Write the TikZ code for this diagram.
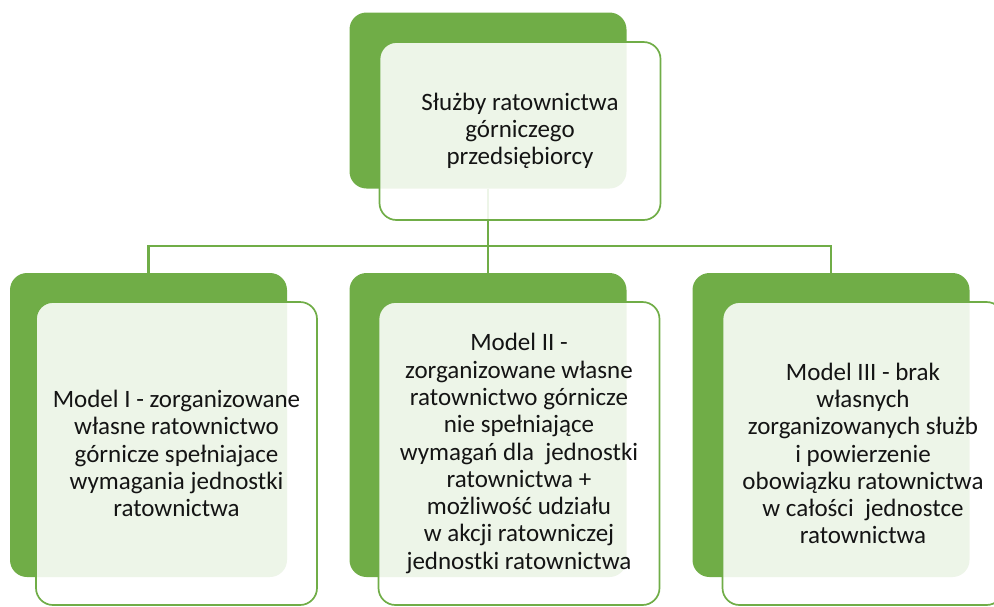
\documentclass[tikz,border=0pt]{standalone}
\usepackage{fontspec}
\setmainfont{Carlito}
\definecolor{modelgreen}{HTML}{70AD47}
\definecolor{modeltext}{HTML}{141414}
\tikzset{
  backbox/.style={fill=modelgreen, rounded corners=17pt, minimum width=277pt, inner sep=0pt},
  frontbox/.style={draw=modelgreen, line width=1.7pt, fill=white, fill opacity=0.88, text opacity=1,
    text=modeltext, rounded corners=17pt, minimum width=281pt, inner sep=0pt, align=center,
    font=\fontsize{25}{27.3}\selectfont},
  link/.style={draw=modelgreen, line width=2.2pt}
}
\begin{document}
\begin{tikzpicture}[x=1pt, y=-1pt]
\useasboundingbox (0,0) rectangle (994,606);
\clip (0,0) rectangle (994,606);
\coordinate (bus) at (488,246);
\node[backbox, minimum height=176pt] (topback) at (488,100.5) {};
\node[backbox, minimum height=304pt] (m1back) at (148.5,425) {};
\node[backbox, minimum height=304pt] (m2back) at (488,425) {};
\node[backbox, minimum height=304pt] (m3back) at (831,425) {};
\draw[link] (topback.south) -- (bus) -| (m1back.north);
\draw[link] (bus) -- (m2back.north);
\draw[link] (bus) -| (m3back.north);
\node[frontbox, minimum height=178pt] (top) at ([shift={(32,30.5)}]topback.center)
  {Służby ratownictwa\\górniczego\\przedsiębiorcy};
\node[frontbox, minimum height=303pt] (m1) at ([shift={(28,28.5)}]m1back.center)
  {Model I - zorganizowane\\własne ratownictwo\\górnicze spełniajace\\wymagania jednostki\\ratownictwa};
\node[frontbox, minimum height=303pt] (m2) at ([shift={(31,28.5)}]m2back.center)
  {Model II -\\zorganizowane własne\\ratownictwo górnicze\\nie spełniające\\wymagań dla\ \ jednostki\\ratownictwa +\\możliwość udziału\\w akcji ratowniczej\\jednostki ratownictwa};
\node[frontbox, minimum height=303pt] (m3) at ([shift={(32,28.5)}]m3back.center)
  {Model III - brak\\własnych\\zorganizowanych służb\\i powierzenie\\obowiązku ratownictwa\\w całości\ \ jednostce\\ratownictwa};
\end{tikzpicture}
\end{document}
